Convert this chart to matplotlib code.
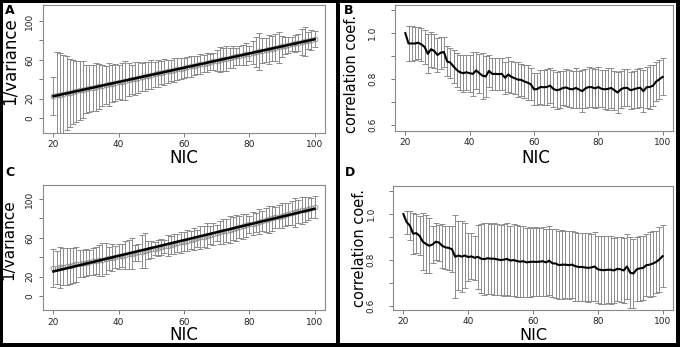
import matplotlib
matplotlib.use('Agg')
import matplotlib.pyplot as plt
from matplotlib.patches import Rectangle
import numpy as np

# ---------------------------------------------------------------- data
nic = list(range(20, 101))

var_a_mean = [23.0, 23.5, 24.2, 25.0, 25.6, 26.2, 27.0, 27.6, 28.5, 29.0,
              29.8, 30.6, 31.0, 31.9, 32.6, 33.4, 34.0, 34.8, 35.5, 36.3,
              37.0, 37.6, 38.5, 39.2, 40.0, 40.6, 41.5, 42.2, 42.8, 43.7,
              44.4, 45.0, 45.9, 46.6, 47.3, 48.0, 48.8, 49.5, 50.4, 51.0,
              51.8, 52.5, 53.2, 54.0, 54.6, 55.5, 56.0, 56.9, 57.6, 58.4,
              59.0, 59.9, 60.5, 61.3, 62.0, 62.8, 63.4, 64.3, 65.0, 65.8,
              66.4, 67.3, 68.0, 68.7, 69.5, 70.2, 71.0, 71.6, 72.5, 73.1,
              74.0, 74.6, 75.4, 76.2, 76.8, 77.6, 78.3, 79.0, 79.8, 80.5,
              81.2]
var_a_sd = [19.5, 45, 43, 40, 38, 35, 33, 31.5, 30.5, 29.5,
            25, 24, 24, 25, 23, 21, 20, 22, 19.5, 19,
            17.5, 19.5, 20, 17, 15, 17, 16, 14, 15, 14,
            15, 13, 14, 12, 13, 12, 11, 12.5, 11, 11,
            10.5, 10, 11, 10, 9.5, 10, 9, 10, 8.5, 9,
            11, 13, 12, 13, 10, 11, 9, 10, 10, 11,
            8, 12, 15, 19, 13, 12, 15, 13, 14, 16,
            11, 9, 8, 7.5, 9, 8.5, 13, 15, 9, 10,
            8]

cor_b_mean = [1.000, 0.955, 0.955, 0.955, 0.958, 0.951, 0.940, 0.910, 0.930, 0.922,
              0.905, 0.915, 0.918, 0.877, 0.872, 0.855, 0.840, 0.830, 0.826, 0.830,
              0.826, 0.823, 0.838, 0.826, 0.815, 0.812, 0.836, 0.823, 0.823, 0.822,
              0.823, 0.806, 0.820, 0.810, 0.804, 0.798, 0.797, 0.790, 0.785, 0.778,
              0.756, 0.757, 0.766, 0.765, 0.766, 0.772, 0.758, 0.752, 0.755, 0.762,
              0.764, 0.758, 0.756, 0.762, 0.755, 0.748, 0.760, 0.766, 0.765, 0.760,
              0.766, 0.758, 0.756, 0.758, 0.762, 0.752, 0.742, 0.756, 0.762, 0.762,
              0.752, 0.756, 0.760, 0.763, 0.748, 0.765, 0.766, 0.772, 0.790, 0.800,
              0.810]
cor_b_sd = [0.0, 0.075, 0.075, 0.073, 0.07, 0.07, 0.075, 0.085, 0.075, 0.075,
            0.075, 0.07, 0.065, 0.065, 0.065, 0.07, 0.075, 0.075, 0.08, 0.075,
            0.08, 0.095, 0.08, 0.085, 0.1, 0.09, 0.07, 0.07, 0.07, 0.07,
            0.07, 0.07, 0.075, 0.07, 0.07, 0.075, 0.07, 0.07, 0.075, 0.07,
            0.07, 0.07, 0.075, 0.075, 0.08, 0.075, 0.08, 0.08, 0.08, 0.075,
            0.08, 0.08, 0.08, 0.085, 0.08, 0.09, 0.085, 0.085, 0.085, 0.085,
            0.085, 0.08, 0.085, 0.09, 0.085, 0.085, 0.09, 0.08, 0.08, 0.08,
            0.08, 0.08, 0.085, 0.085, 0.09, 0.09, 0.095, 0.09, 0.085, 0.085,
            0.08]

var_c_mean = [28.5, 29.0, 29.5, 30.1, 30.7, 31.3, 31.9, 32.5, 33.1, 33.7,
              34.3, 34.9, 35.6, 36.2, 36.9, 37.5, 38.2, 38.8, 39.5, 40.2,
              40.8, 41.5, 42.2, 42.9, 43.6, 44.3, 45.0, 45.7, 46.5, 47.3,
              48.0, 48.8, 49.6, 50.4, 51.2, 52.0, 52.8, 53.6, 54.4, 55.2,
              56.1, 56.9, 57.8, 58.6, 59.5, 60.4, 61.2, 62.1, 63.0, 63.9,
              64.8, 65.7, 66.6, 67.5, 68.4, 69.3, 70.2, 71.1, 72.0, 72.9,
              73.8, 74.7, 75.6, 76.5, 77.4, 78.3, 79.2, 80.1, 81.0, 81.9,
              82.8, 83.7, 84.6, 85.5, 86.4, 87.3, 88.2, 89.1, 90.0, 90.9,
              91.8]
var_c_sd = [19.5, 17, 21, 19, 19, 18.5, 18, 18, 14, 14,
            14, 13, 14, 14, 16, 17, 16, 12, 14, 11,
            13, 12, 14, 15, 16, 8, 9, 17, 18, 9,
            8.5, 7, 8, 8, 7, 11, 9, 10, 9, 11,
            10, 11, 9, 11, 9, 12, 11, 13, 9, 11,
            8, 12, 13, 12, 14, 12, 13, 11, 13, 12,
            9, 12, 10, 13, 10, 12, 14, 13, 11, 12,
            13, 12, 11, 12, 15, 12, 14, 13, 12, 10,
            11]

cor_d_mean = [1.000, 0.965, 0.950, 0.915, 0.917, 0.905, 0.880, 0.870, 0.862, 0.868,
              0.880, 0.876, 0.862, 0.855, 0.853, 0.847, 0.814, 0.820, 0.815, 0.820,
              0.813, 0.816, 0.810, 0.814, 0.806, 0.804, 0.808, 0.806, 0.806, 0.803,
              0.800, 0.802, 0.805, 0.798, 0.800, 0.796, 0.793, 0.795, 0.790, 0.792,
              0.793, 0.792, 0.793, 0.795, 0.790, 0.797, 0.786, 0.785, 0.778, 0.780,
              0.780, 0.778, 0.780, 0.774, 0.770, 0.770, 0.768, 0.766, 0.768, 0.772,
              0.760, 0.757, 0.756, 0.758, 0.758, 0.755, 0.762, 0.760, 0.755, 0.772,
              0.745, 0.742, 0.760, 0.764, 0.766, 0.778, 0.780, 0.785, 0.792, 0.803,
              0.817]
cor_d_sd = [0.0, 0.05, 0.063, 0.09, 0.085, 0.085, 0.125, 0.125, 0.12, 0.08,
            0.08, 0.078, 0.095, 0.095, 0.097, 0.1, 0.18, 0.15, 0.155, 0.14,
            0.105, 0.1, 0.095, 0.14, 0.15, 0.155, 0.155, 0.152, 0.156, 0.155,
            0.153, 0.156, 0.155, 0.152, 0.155, 0.157, 0.153, 0.155, 0.15, 0.152,
            0.148, 0.15, 0.147, 0.15, 0.146, 0.15, 0.148, 0.15, 0.147, 0.149,
            0.146, 0.148, 0.147, 0.15, 0.148, 0.146, 0.148, 0.15, 0.147, 0.149,
            0.146, 0.148, 0.147, 0.145, 0.147, 0.142, 0.14, 0.142, 0.14, 0.14,
            0.155, 0.15, 0.14, 0.14, 0.138, 0.135, 0.14, 0.14, 0.135, 0.14,
            0.135]

# ---------------------------------------------------------------- layout helpers
W, H = 680., 347.
GREY = '#8c8c8c'


def box(l, t, r, b):
    return [l / W, 1 - b / H, (r - l) / W, (b - t) / H]


def r_style(ax, ylim, yticks, ylabels, ypad, xpad):
    ax.set_xlim(16.8, 103.2)
    ax.set_ylim(*ylim)
    for s in ax.spines.values():
        s.set_color('#8a8a8a')
        s.set_linewidth(0.8)
    ax.set_xticks([20, 40, 60, 80, 100])
    ax.set_yticks(yticks)
    ax.set_yticklabels(ylabels, rotation=90, va='center')
    ax.tick_params(axis='both', length=3, width=0.6, color='#666666',
                   labelsize=6.5, labelcolor='#222222')
    ax.tick_params(axis='y', pad=ypad)
    ax.tick_params(axis='x', pad=xpad)


def var_panel(ax, mean, sd):
    ax.errorbar(nic, mean, yerr=sd, fmt='none', ecolor=GREY,
                elinewidth=0.7, capsize=2.2, capthick=0.7, zorder=2)
    ax.plot(nic, mean, 'o', mfc='none', mec=GREY, ms=3.5, mew=0.6, zorder=3)
    k, c = np.polyfit(nic, mean, 1)
    ax.plot(nic, np.polyval([k, c], nic), color='black', lw=1.8, zorder=4)


def cor_panel(ax, mean, sd):
    x = np.array(nic)
    m = np.array(mean)
    s = np.array(sd)
    keep = s > 0
    ax.errorbar(x[keep], m[keep], yerr=s[keep], fmt='none', ecolor=GREY,
                elinewidth=0.7, capsize=2.2, capthick=0.7, zorder=2)
    ax.plot(x, m, color='black', lw=1.5, zorder=4)


fig = plt.figure(figsize=(6.8, 3.47), dpi=100)

ax_a = fig.add_axes(box(43, 5, 325, 133))
var_panel(ax_a, var_a_mean, var_a_sd)
r_style(ax_a, (-15.5, 116.5), [0, 20, 40, 60, 80, 100],
        ['0', '20', '', '60', '', '100'], 3.5, 2)

ax_b = fig.add_axes(box(395, 5, 673, 131))
cor_panel(ax_b, cor_b_mean, cor_b_sd)
r_style(ax_b, (0.575, 1.122), [0.6, 0.7, 0.8, 0.9, 1.0, 1.1],
        ['0.6', '', '0.8', '', '1.0', ''], 10, 2)

ax_c = fig.add_axes(box(43, 185, 325, 310))
var_panel(ax_c, var_c_mean, var_c_sd)
r_style(ax_c, (-14.4, 114.4), [0, 20, 40, 60, 80, 100],
        ['0', '20', '', '60', '', '100'], 3.5, 2.5)

ax_d = fig.add_axes(box(393, 186, 673, 310))
cor_panel(ax_d, cor_d_mean, cor_d_sd)
r_style(ax_d, (0.583, 1.122), [0.6, 0.7, 0.8, 0.9, 1.0, 1.1],
        ['0.6', '', '0.8', '', '1.0', ''], 9.5, 2)

# axis titles, placed in figure pixels
def ftext(x, y, s, **kw):
    fig.text(x / W, 1 - y / H, s, ha='center', va='center', **kw)


ftext(10, 61, '1/variance', rotation=90, fontsize=12)
ftext(9, 240, '1/variance', rotation=90, fontsize=11)
ftext(351, 74, 'correlation coef.', rotation=90, fontsize=10.5)
ftext(360, 248, 'correlation coef.', rotation=90, fontsize=10.5)
ftext(184, 158, 'NIC', fontsize=12)
ftext(536, 158, 'NIC', fontsize=12)
ftext(184, 335, 'NIC', fontsize=12)
ftext(533, 335.5, 'NIC', fontsize=11.5)

ftext(10, 10, 'A', fontsize=9, fontweight='bold')
ftext(349, 10, 'B', fontsize=9, fontweight='bold')
ftext(10, 173, 'C', fontsize=9, fontweight='bold')
ftext(350, 172, 'D', fontsize=9, fontweight='bold')

# black frame round the image and between the two columns
for l, t, r, b in [(0, 0, 680, 3), (0, 0, 3, 347), (676, 0, 680, 347),
                   (0, 343, 680, 347), (336, 0, 340, 347)]:
    fig.add_artist(Rectangle((l / W, 1 - b / H), (r - l) / W, (b - t) / H,
                             transform=fig.transFigure, color='black',
                             lw=0, zorder=20))

fig.savefig('out.png', dpi=100)
